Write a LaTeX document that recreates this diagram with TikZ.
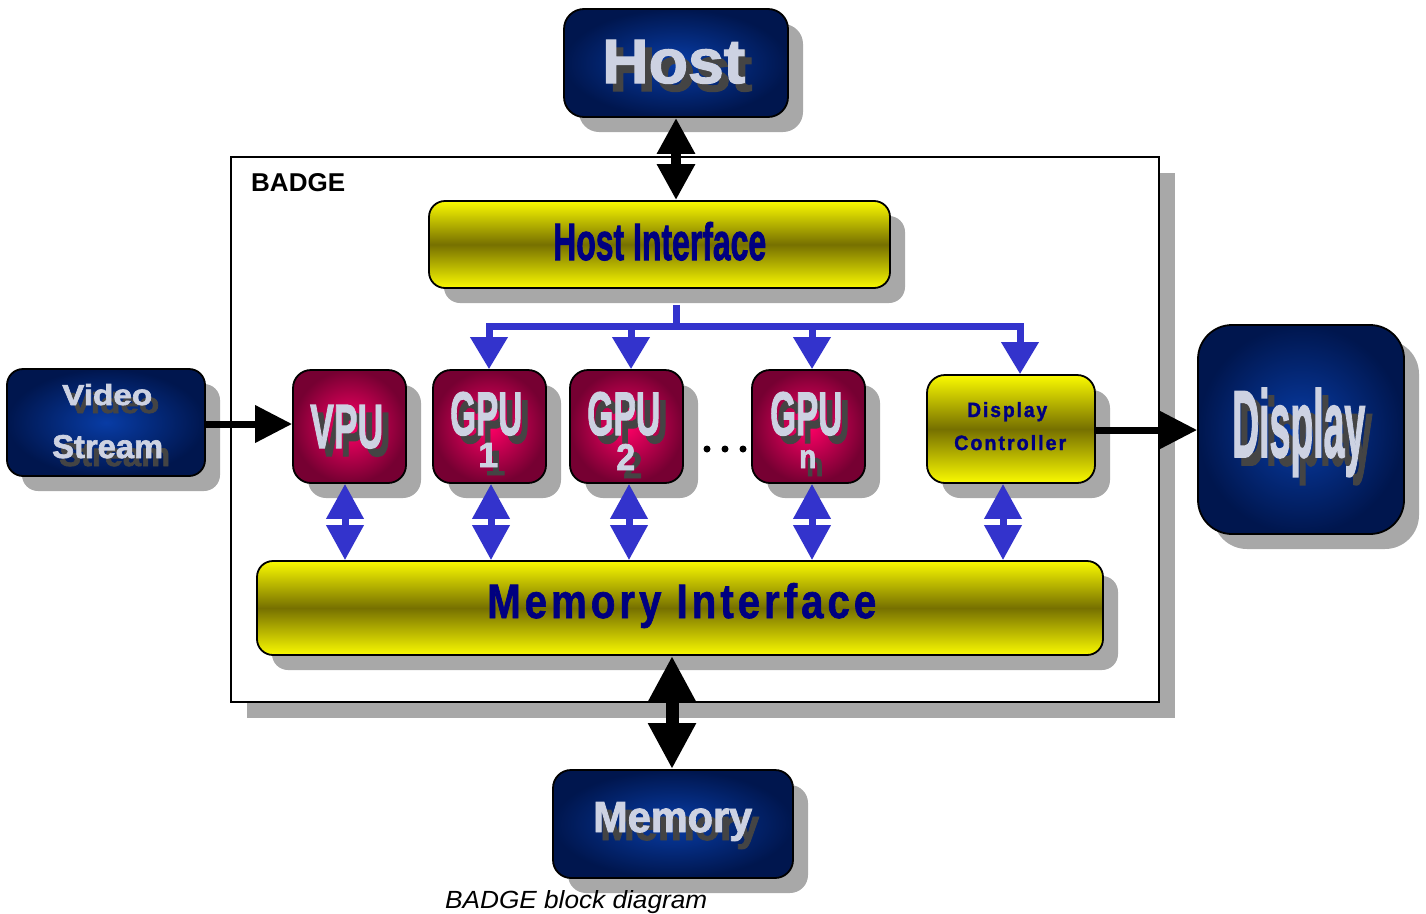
\documentclass[tikz,border=0pt]{standalone}
\usepackage{fontspec}
\setmainfont{Liberation Sans}
\newfontfamily\heavyfont{Liberation Sans}[BoldFeatures={FakeBold=2}]
\newfontfamily\spacedfont{Liberation Sans}[BoldFeatures={FakeBold=1.5}, LetterSpace=10]
\usepackage{graphicx}
\usetikzlibrary{arrows.meta,shadows}

\definecolor{txtnavy}{RGB}{0,0,128}
\definecolor{bbIn}{RGB}{8,60,165}
\definecolor{bbOut}{RGB}{0,22,78}
\definecolor{mgIn}{RGB}{255,0,102}
\definecolor{mgOut}{RGB}{118,0,50}
\definecolor{yelEdge}{RGB}{250,250,0}
\definecolor{yelMid}{RGB}{118,112,0}
\definecolor{busblue}{RGB}{51,51,204}
\definecolor{shadegray}{RGB}{168,168,168}
\definecolor{waFront}{RGB}{205,210,226}
\definecolor{waBack}{RGB}{68,68,68}

\pgfdeclarelayer{framelayer}
\pgfsetlayers{framelayer,main}

\tikzset{
  box/.style={draw=black, line width=1.8pt, inner sep=0pt, rounded corners=#1},
  box/.default=16pt,
  shadowed/.style={drop shadow={shadow xshift=#1, shadow yshift=-#1, fill=shadegray, opacity=1}},
  shadowed/.default=15pt,
  bluebox/.style={box=#1, shadowed, shading=radial, inner color=bbIn, outer color=bbOut},
  bluebox/.default=18pt,
  redbox/.style={box=18pt, shadowed, shading=radial, inner color=mgIn, outer color=mgOut},
  yellowbox/.style={box=#1, shadowed, top color=yelEdge, bottom color=yelEdge, middle color=yelMid},
  yellowbox/.default=16pt,
  txt/.style={inner sep=0pt, anchor=base west},
  wa front/.style={txt, text=waFront},
  wa back/.style={txt, text=waBack},
  dotmark/.style={circle, fill=black, inner sep=0pt, minimum size=7pt},
  flow/.style={draw=black, line width=7pt, -{Triangle[length=37pt,width=36pt]}},
  hostlink/.style={draw=black, line width=10pt,
    {Triangle[length=36pt,width=36pt]}-{Triangle[length=36pt,width=36pt]}},
  memlink/.style={draw=black, line width=13pt,
    {Triangle[length=46pt,width=45pt]}-{Triangle[length=46pt,width=45pt]}},
  bus/.style={draw=busblue, line width=7pt},
  busdrop/.style={bus, -{Triangle[length=32pt,width=36pt]}},
  memport/.style={draw=busblue, line width=7pt,
    {Triangle[length=35pt,width=36pt]}-{Triangle[length=35pt,width=36pt]}},
}

% two-layer title: dark offset copy behind a light copy
\newcommand\wordart[6]{%
  \node[wa back] (#1-shadow) at (#2+7,#3+8) {\resizebox{#4pt}{#5pt}{\heavyfont\bfseries #6}};
  \node[wa front] (#1) at (#2,#3) {\resizebox{#4pt}{#5pt}{\heavyfont\bfseries #6}};}

\begin{document}
\begin{tikzpicture}[x=1pt,y=-1pt]
\useasboundingbox (0,0) rectangle (1426,913);

% enclosing BADGE frame
\begin{pgfonlayer}{framelayer}
  \node[draw=black, line width=2.5pt, fill=white, inner sep=0pt,
        minimum width=928pt, minimum height=545pt, shadowed=16pt]
        (badge) at (695,429.5) {};
\end{pgfonlayer}
\node[txt] (badge-label) at (251,191) {\resizebox{94pt}{18pt}{\bfseries BADGE}};

% external blocks
\node[bluebox=20pt, minimum width=224pt, minimum height=108pt] (host) at (676,63) {};
\node[bluebox=16pt, minimum width=198pt, minimum height=107pt] (video) at (106,422.5) {};
\node[bluebox=34pt, minimum width=206pt, minimum height=209pt] (display) at (1301,429.5) {};
\node[bluebox=18pt, minimum width=240pt, minimum height=108pt] (memory) at (673,824) {};

% interfaces
\node[yellowbox=16pt, minimum width=461pt, minimum height=87pt] (hif) at (659.5,244.5) {};
\node[yellowbox=16pt, minimum width=846pt, minimum height=94pt] (mif) at (680,608) {};
\node[yellowbox=18pt, minimum width=168pt, minimum height=108pt] (dc) at (1011,429) {};

% processing units
\node[redbox, minimum width=113pt, minimum height=113pt] (vpu) at (349.5,426.5) {};
\node[redbox, minimum width=113pt, minimum height=113pt] (gpu1) at (489.5,426.5) {};
\node[redbox, minimum width=113pt, minimum height=113pt] (gpu2) at (626.5,426.5) {};
\node[redbox, minimum width=113pt, minimum height=113pt] (gpun) at (808.5,426.5) {};

\node[dotmark] (dot1) at (707,449) {};
\node[dotmark] (dot2) at (725,449) {};
\node[dotmark] (dot3) at (743,449) {};

% block titles
\wordart{host-title}{602}{83}{143}{43}{Host}
\wordart{video-title}{62}{405}{90}{21}{Video}
\wordart{stream-title}{52}{458}{111}{23}{Stream}
\wordart{vpu-title}{310}{448}{73}{43}{VPU}
\wordart{gpu1-title}{450}{435}{72}{43}{GPU}
\wordart{gpu1-num}{478}{467}{20}{24}{1}
\wordart{gpu2-title}{587}{435}{73}{43}{GPU}
\wordart{gpu2-num}{616}{470}{19}{26}{2}
\wordart{gpun-title}{770}{435}{72}{43}{GPU}
\wordart{gpun-num}{799}{468}{17}{18}{n}
\wordart{display-title}{1232}{457}{133}{69}{Display}
\wordart{memory-title}{593}{832}{159}{30}{Memory}

\node[txt, text=txtnavy] (hif-label) at (553,260) {\resizebox{213pt}{38pt}{\heavyfont\bfseries Host Interface}};
\node[txt, text=txtnavy] (mif-label) at (487,618) {\resizebox{389pt}{35pt}{\spacedfont\bfseries Memory Interface}};
\node[txt, text=txtnavy] (dc-label1) at (967,417) {\resizebox{80pt}{15pt}{\spacedfont\bfseries Display}};
\node[txt, text=txtnavy] (dc-label2) at (954,450) {\resizebox{112pt}{15pt}{\spacedfont\bfseries Controller}};

\node[txt] (caption) at (445,908) {\resizebox{262pt}{18pt}{\itshape BADGE block diagram}};

% connectors
\draw[hostlink] (host.south) -- (host.south |- hif.north);
\draw[memlink] ([xshift=-1pt]memory.north |- mif.south) -- ([xshift=-1pt]memory.north);
\draw[flow] (video.east |- 0,424) -- (vpu.west |- 0,424);
\draw[flow] (dc.east |- 0,430) -- (display.west |- 0,430);

\coordinate (busmid) at (676,326);
\draw[bus] ([xshift=16.5pt,yshift=-16pt]hif.south) -- (busmid);
\draw[busdrop] (busmid) -| ([xshift=-0.5pt]gpu1.north);
\draw[busdrop] (busmid) -| ([xshift=4.5pt]gpu2.north);
\draw[busdrop] (busmid) -| ([xshift=3.5pt]gpun.north);
\draw[busdrop] (busmid) -| ([xshift=9pt]dc.north);

\draw[memport] ([xshift=-4.5pt]vpu.south) -- ([xshift=-4.5pt]vpu.south |- mif.north);
\draw[memport] ([xshift=1.5pt]gpu1.south) -- ([xshift=1.5pt]gpu1.south |- mif.north);
\draw[memport] ([xshift=2.5pt]gpu2.south) -- ([xshift=2.5pt]gpu2.south |- mif.north);
\draw[memport] ([xshift=3.5pt]gpun.south) -- ([xshift=3.5pt]gpun.south |- mif.north);
\draw[memport] ([xshift=-8pt]dc.south) -- ([xshift=-8pt]dc.south |- mif.north);
\end{tikzpicture}
\end{document}
